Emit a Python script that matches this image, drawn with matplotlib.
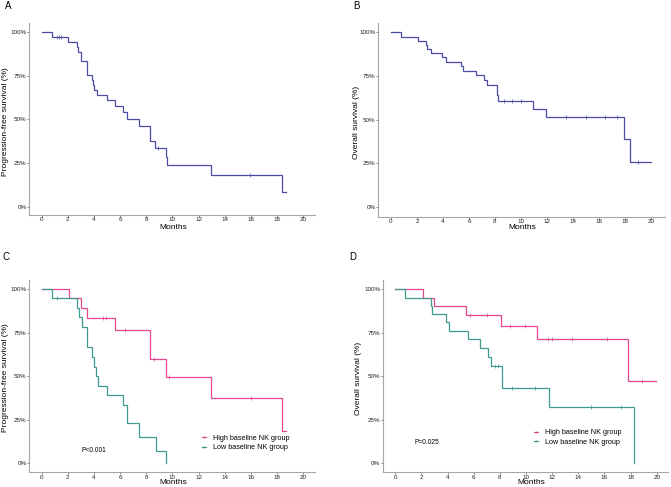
import numpy as np
import matplotlib
matplotlib.use("Agg")
import matplotlib.pyplot as plt
from matplotlib.lines import Line2D

plt.rcParams["font.family"] = ["Liberation Sans", "DejaVu Sans"]

W, H = 671, 487

# ---------------------------------------------------------------------------
# Kaplan-Meier curves: event times (months) and survival after each drop
# ---------------------------------------------------------------------------
# Panel A - PFS, all patients
a_times = [0.0, 0.76, 2.04, 2.68, 2.80, 2.98, 3.44, 3.82, 3.95, 4.03, 4.20,
           5.02, 5.60, 6.24, 6.50, 7.44, 8.28, 8.66, 9.48, 9.55, 12.92, 18.34]
a_surv = [1.0, 0.975, 0.946, 0.918, 0.889, 0.834, 0.753, 0.727, 0.698, 0.669,
          0.640, 0.612, 0.577, 0.541, 0.503, 0.463, 0.377, 0.335, 0.287,
          0.241, 0.181, 0.086]
a_end = 18.7
a_cens = [1.15, 1.3, 1.45, 8.9, 15.9]

# Panel B - OS, all patients
b_times = [0.0, 0.74, 2.10, 2.67, 2.80, 3.05, 3.95, 4.21, 5.39, 5.57, 6.52,
           7.16, 7.37, 8.14, 8.20, 8.27, 10.91, 11.91, 17.95, 18.41]
b_surv = [1.0, 0.975, 0.950, 0.927, 0.902, 0.880, 0.857, 0.830, 0.807, 0.780,
          0.753, 0.727, 0.696, 0.669, 0.640, 0.608, 0.562, 0.514, 0.386, 0.256]
b_end = 20.0
b_cens = [8.7, 9.3, 10.0, 13.5, 15.0, 16.5, 17.4, 19.0]

# Panel C - PFS by baseline NK
c_hi_times = [0.0, 2.09, 3.00, 3.44, 5.60, 8.30, 9.50, 12.92, 18.34]
c_hi_surv = [1.0, 0.946, 0.893, 0.836, 0.765, 0.597, 0.497, 0.373, 0.185]
c_hi_end = 18.7
c_hi_cens = [4.7, 4.9, 6.4, 8.6, 9.7, 16.0]

c_lo_times = [0.0, 0.76, 2.68, 2.85, 3.06, 3.49, 3.82, 4.00, 4.15, 4.28, 5.02,
              6.24, 6.55, 7.46, 8.71, 9.48]
c_lo_surv = [1.0, 0.946, 0.893, 0.837, 0.780, 0.670, 0.612, 0.555, 0.500,
             0.445, 0.390, 0.335, 0.233, 0.153, 0.070, 0.0]
c_lo_end = 9.48
c_lo_cens = [1.2]

# Panel D - OS by baseline NK
d_hi_times = [0.0, 2.09, 2.96, 5.38, 8.06, 10.82, 17.83]
d_hi_surv = [1.0, 0.950, 0.900, 0.850, 0.788, 0.711, 0.470]
d_hi_end = 19.92
d_hi_cens = [5.7, 7.0, 8.8, 9.9, 11.7, 12.0, 13.5, 16.2, 18.9]

d_lo_times = [0.0, 0.74, 2.70, 2.80, 3.90, 4.13, 5.59, 6.48, 7.12, 7.32,
              8.14, 11.79, 18.29]
d_lo_surv = [1.0, 0.950, 0.900, 0.857, 0.809, 0.761, 0.711, 0.660, 0.608,
             0.556, 0.434, 0.325, 0.0]
d_lo_end = 18.29
d_lo_cens = [7.63, 7.88, 8.9, 10.7, 15.0, 17.3]

group_labels = ["High baseline NK group", "Low baseline NK group"]

BLUE = "#4b4ba6"
PINK = "#e3478c"
TEAL = "#3d9a8e"
AXIS_GREY = "#a6a6a6"


def px_axes(x0, y0, x1, y1):
    """Axes from pixel box (left, top, right, bottom) in figure pixels."""
    return fig.add_axes([x0 / W, 1 - y1 / H, (x1 - x0) / W, (y1 - y0) / H])


def km(ax, times, surv, end, cens, color):
    t = list(times) + [end]
    s = list(surv) + [surv[-1]]
    ax.step(t, s, where="post", color=color, lw=0.9, solid_joinstyle="miter")
    if cens:
        idx = np.searchsorted(times, cens, side="right") - 1
        ax.plot(cens, np.array(surv)[idx], ls="none", marker="|", ms=2.5,
                mew=0.5, color=color)


def style(ax, xlim, ylim, ylabel, ylab_px, xlab_xy, letter_xy, letter):
    ax.set_xlim(*xlim)
    ax.set_ylim(*ylim)
    ax.set_xticks(range(0, 21, 2))
    ax.set_yticks([0, 0.25, 0.5, 0.75, 1.0])
    ax.set_yticklabels(["0%", "25%", "50%", "75%", "100%"])
    for side in ["top", "right"]:
        ax.spines[side].set_visible(False)
    for side in ["left", "bottom"]:
        ax.spines[side].set_color(AXIS_GREY)
        ax.spines[side].set_linewidth(0.8)
    ax.tick_params(length=1.2, width=0.5, color="#555555", labelsize=4.5,
                   pad=0.6, labelcolor="#222222")
    fig.text(ylab_px[0] / W, 1 - ylab_px[1] / H, ylabel, rotation=90,
             ha="center", va="center", fontsize=6)
    fig.text(xlab_xy[0] / W, 1 - xlab_xy[1] / H, "Months",
             ha="center", va="center", fontsize=6)
    fig.text(letter_xy[0] / W, 1 - letter_xy[1] / H, letter,
             ha="center", va="center", fontsize=7)


fig = plt.figure(figsize=(W / 100, H / 100), dpi=100)

# A
axA = px_axes(29, 23, 315, 215)
km(axA, a_times, a_surv, a_end, a_cens, BLUE)
style(axA, (-0.97, 20.9), (-0.048, 1.053), "Progression-free survival (%)",
      (6, 122), (173, 227.5), (8, 6), "A")

# B
axB = px_axes(378, 23, 665, 216.7)
km(axB, b_times, b_surv, b_end, b_cens, BLUE)
style(axB, (-1.0, 21.1), (-0.057, 1.053), "Overall survival (%)",
      (356, 122), (522, 227.5), (356, 6), "B")

# C
axC = px_axes(29, 280, 315, 472.3)
km(axC, c_hi_times, c_hi_surv, c_hi_end, c_hi_cens, PINK)
km(axC, c_lo_times, c_lo_surv, c_lo_end, c_lo_cens, TEAL)
style(axC, (-0.97, 20.9), (-0.052, 1.052), "Progression-free survival (%)",
      (6, 378), (173, 482.5), (6, 257), "C")
fig.text(94 / W, 1 - 451 / H, "P<0.001", ha="center", va="center", fontsize=4.8)

# D
axD = px_axes(382.7, 280, 668, 472.3)
km(axD, d_hi_times, d_hi_surv, d_hi_end, d_hi_cens, PINK)
km(axD, d_lo_times, d_lo_surv, d_lo_end, d_lo_cens, TEAL)
style(axD, (-0.96, 20.86), (-0.052, 1.052), "Overall survival (%)",
      (358, 378), (531, 482.5), (353, 257), "D")
fig.text(427 / W, 1 - 443 / H, "P=0.025", ha="center", va="center", fontsize=4.8)

handles = [Line2D([], [], color=c, lw=0.9, marker="|", ms=2.0, mew=0.5)
           for c in (PINK, TEAL)]
for ax, (lx, ly) in ((axC, (202, 443)), (axD, (534, 437.5))):
    ax.legend(handles, group_labels, loc="center left",
              bbox_to_anchor=(lx / W, 1 - ly / H), bbox_transform=fig.transFigure,
              frameon=False, fontsize=5.2, handlelength=0.6, handletextpad=0.9,
              labelspacing=0.3, borderpad=0, borderaxespad=0)

fig.savefig("out.png", dpi=100)
